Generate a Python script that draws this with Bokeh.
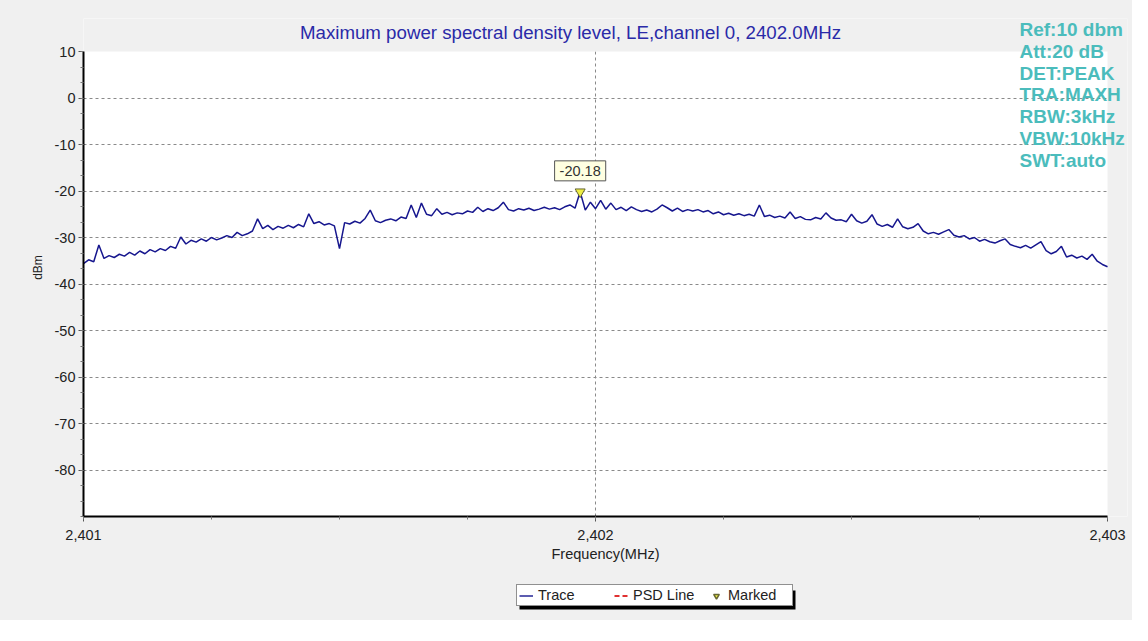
import numpy as np
from bokeh.plotting import figure
from bokeh.layouts import column
from bokeh.models import (Range1d, FixedTicker, NumeralTickFormatter, PrintfTickFormatter,
                          Label, Legend, LegendItem, ColumnDataSource, BoxAnnotation)
from bokeh.embed import file_html
from bokeh.resources import INLINE

# ---------------- data ----------------
TITLE = "Maximum power spectral density level, LE,channel 0, 2402.0MHz"
X_LABEL = "Frequency(MHz)"
Y_LABEL = "dBm"
SWEEP_START = 2401.0
SWEEP_STOP = 2403.0
x_ticks = [2401, 2402, 2403]
y_ticks = [10, 0, -10, -20, -30, -40, -50, -60, -70, -80]
y_min, y_max = -90, 10

trace_dbm = [
    -35.6, -34.8, -35.2, -31.6, -34.5, -33.9, -34.3, -33.6, -34.0, -33.2,
    -33.8, -32.9, -33.5, -32.6, -33.1, -32.4, -32.8, -31.9, -32.3, -29.9,
    -31.4, -30.6, -31.0, -30.3, -30.8, -30.0, -30.5, -30.1, -29.6, -30.0,
    -28.9, -29.6, -29.2, -28.6, -26.0, -28.1, -27.4, -28.3, -27.6, -28.0,
    -27.4, -27.9, -27.2, -27.7, -24.9, -27.0, -26.6, -27.3, -27.0, -27.5,
    -32.4, -26.8, -27.1, -26.5, -26.9, -25.9, -24.1, -26.4, -26.8, -26.3,
    -26.0, -26.4, -25.6, -25.9, -23.0, -25.7, -22.6, -25.0, -25.3, -23.8,
    -25.0, -24.6, -25.1, -24.7, -24.9, -24.3, -24.6, -23.5, -24.4, -23.8,
    -24.2, -23.6, -22.4, -24.0, -24.3, -23.8, -24.1, -23.7, -24.2, -23.9,
    -23.5, -23.9, -23.6, -24.0, -23.4, -23.0, -23.7, -20.18, -24.1, -22.4,
    -23.8, -22.0, -23.9, -22.6, -24.0, -23.5, -24.2, -23.4, -24.0, -24.4,
    -24.1, -24.5, -23.9, -23.0, -23.6, -24.3, -23.7, -24.4, -24.0, -24.3,
    -24.0, -24.5, -24.2, -24.9, -24.5, -25.1, -24.8, -25.2, -24.9, -25.3,
    -25.0, -25.4, -23.0, -25.5, -25.2, -25.7, -25.4, -25.8, -24.5, -25.9,
    -25.5, -26.1, -26.2, -25.7, -26.0, -24.7, -25.8, -26.3, -26.2, -26.6,
    -25.0, -26.4, -26.9, -26.5, -25.1, -27.1, -27.6, -27.2, -27.8, -26.0,
    -27.7, -28.1, -27.8, -27.0, -28.6, -29.2, -28.9, -29.3, -28.8, -28.3,
    -29.5, -29.9, -29.6, -30.3, -30.0, -30.8, -30.4, -30.9, -31.2, -30.7,
    -30.3, -31.5, -31.9, -32.2, -31.7, -32.3, -31.6, -30.9, -32.8, -33.5,
    -33.0, -31.9, -34.2, -33.8, -34.4, -34.0, -34.7, -33.6, -35.1, -35.8,
    -36.3,
]
trace_freq = np.linspace(SWEEP_START, SWEEP_STOP, len(trace_dbm))

marker_freq = [2401.97]
marker_dbm = [-20.18]
marker_text = "-20.18"

settings_text = ["Ref:10 dbm", "Att:20 dB", "DET:PEAK", "TRA:MAXH",
                 "RBW:3kHz", "VBW:10kHz", "SWT:auto"]
legend_labels = ["Trace", "PSD Line", "Marked"]

# ---------------- styling ----------------
FONT = "Liberation Sans"
BG = "#f0f0f0"
TEXT = "#222222"
TRACE_COLOR = "#16168e"
PSD_COLOR = "#e03030"
MARK_FILL = "#eeee44"
MARK_LINE = "#666633"

# the frame extends a little past the plotted area (right / top) so the
# instrument-settings text can straddle the edge like in the original
X_VIEW_END = 2403.039
Y_VIEW_END = 17.1

p = figure(width=1132, height=568, output_backend="svg", toolbar_location=None,
           x_range=Range1d(SWEEP_START, X_VIEW_END), y_range=Range1d(y_min, Y_VIEW_END),
           min_border_left=83, min_border_right=5, min_border_top=18,
           min_border_bottom=52, title=None)
p.border_fill_color = BG
p.background_fill_color = "white"
p.outline_line_color = None

# axes
p.xaxis.ticker = FixedTicker(ticks=x_ticks,
                             minor_ticks=list(np.arange(SWEEP_START, SWEEP_STOP + 0.001, 0.25)))
p.yaxis.ticker = FixedTicker(ticks=y_ticks,
                             minor_ticks=list(np.arange(y_min, y_max + 0.01, 10 / 3)))
p.xaxis.formatter = NumeralTickFormatter(format="0,0")
p.yaxis.formatter = PrintfTickFormatter(format="%d")
p.xaxis.bounds = (SWEEP_START, SWEEP_STOP)
p.yaxis.bounds = (y_min, y_max)
for ax in (p.xaxis, p.yaxis):
    ax.axis_line_color = "black"
    ax.axis_line_width = 2
    ax.major_tick_line_color = "#555555"
    ax.minor_tick_line_color = "#777777"
    ax.major_tick_out = 5
    ax.major_tick_in = 0
    ax.minor_tick_out = 3
    ax.minor_tick_in = 0
    ax.major_label_text_font = FONT
    ax.major_label_text_font_size = "14.5px"
    ax.major_label_text_color = TEXT
    ax.axis_label_text_font = FONT
    ax.axis_label_text_font_style = "normal"
    ax.axis_label_text_color = TEXT
p.xaxis.axis_label = X_LABEL
p.yaxis.axis_label = Y_LABEL
p.xaxis.axis_label_text_font_size = "14.5px"
p.yaxis.axis_label_text_font_size = "12px"
p.xaxis.major_label_standoff = 8
p.xaxis.axis_label_standoff = 3
p.yaxis.major_label_standoff = 3
p.yaxis.axis_label_standoff = 7

# grid
p.xgrid.ticker = FixedTicker(ticks=[x_ticks[1]])
p.ygrid.ticker = FixedTicker(ticks=y_ticks[1:])
for g in (p.xgrid, p.ygrid):
    g.grid_line_color = "#8a8a8a"
    g.grid_line_dash = "3 3"
    g.grid_line_width = 1

# grey surround outside the plotted area (right of 2403 MHz, above 10 dBm)
p.add_layout(BoxAnnotation(left=SWEEP_STOP, fill_color=BG, fill_alpha=1.0,
                           line_color=None, level="underlay"))
p.add_layout(BoxAnnotation(bottom=y_max, fill_color=BG, fill_alpha=1.0,
                           line_color=None, level="underlay"))

# renderers
trace_src = ColumnDataSource(dict(f=trace_freq, v=trace_dbm))
p.line("f", "v", source=trace_src, line_color=TRACE_COLOR, line_width=1.5)
mk_src = ColumnDataSource(dict(f=marker_freq, v=marker_dbm))
p.scatter("f", "v", source=mk_src, marker="inverted_triangle", size=10,
          fill_color=MARK_FILL, line_color=MARK_LINE, line_width=1)

p.add_layout(Label(x=marker_freq[0], y=marker_dbm[0], text=marker_text,
                   text_align="center", text_baseline="bottom", y_offset=11,
                   text_font=FONT, text_font_size="14.5px", text_color="#333333",
                   background_fill_color="#ffffe1", border_line_color="#555555",
                   border_line_width=1, padding=5))

# title
p.add_layout(Label(x=487, y=484, x_units="screen", y_units="screen", text=TITLE,
                   text_align="center", text_baseline="middle", text_font=FONT,
                   text_font_size="18.7px", text_color="#2a2aa8"))

# instrument settings text (top right)
for i, t in enumerate(settings_text):
    p.add_layout(Label(x=936, y=487 - 21.8 * i, x_units="screen", y_units="screen",
                       text=t, text_align="left", text_baseline="middle",
                       text_font=FONT, text_font_size="19px", text_font_style="bold",
                       text_color="#4bbcbc"))

# ---------------- legend strip ----------------
lg = figure(width=1132, height=52, output_backend="svg", toolbar_location=None,
            x_range=Range1d(0, 1), y_range=Range1d(0, 1),
            x_axis_location=None, y_axis_location=None,
            min_border_left=83, min_border_right=5, min_border_top=0, min_border_bottom=0)
lg.border_fill_color = BG
lg.background_fill_color = None
lg.outline_line_color = None
lg.xgrid.visible = False
lg.ygrid.visible = False

# legend-only renderers (nothing is drawn in the strip itself)
nothing = dict(x=[np.nan], y=[np.nan])
lr_trace = lg.line("x", "y", source=ColumnDataSource(nothing), line_color=TRACE_COLOR,
                   line_width=1.4)
lr_psd = lg.line("x", "y", source=ColumnDataSource(nothing), line_color=PSD_COLOR,
                 line_width=2, line_dash="5 3")
lr_mk = lg.scatter("x", "y", source=ColumnDataSource(nothing), marker="inverted_triangle",
                   size=9, fill_color=MARK_FILL, line_color=MARK_LINE, line_width=1.5)

LEG_X, LEG_Y, LEG_W, LEG_H, SHADOW = 433, 14, 276, 19, 3

# drop shadow behind the legend box
lg.add_layout(BoxAnnotation(left=LEG_X + SHADOW, right=LEG_X + SHADOW + LEG_W,
                            bottom=LEG_Y - SHADOW, top=LEG_Y - SHADOW + LEG_H,
                            left_units="screen", right_units="screen",
                            bottom_units="screen", top_units="screen",
                            fill_color="black", fill_alpha=1.0, line_color=None))

legend = Legend(items=[LegendItem(label=legend_labels[0], renderers=[lr_trace]),
                       LegendItem(label=legend_labels[1], renderers=[lr_psd]),
                       LegendItem(label=legend_labels[2], renderers=[lr_mk])],
                location=(LEG_X, LEG_Y), orientation="horizontal",
                glyph_width=14, glyph_height=15, label_height=15, label_width=62,
                label_standoff=5, spacing=14, padding=2, margin=0,
                label_text_font=FONT, label_text_font_size="14.5px",
                label_text_color=TEXT, background_fill_color="white",
                background_fill_alpha=1.0, border_line_color="#222222",
                border_line_width=1)
lg.add_layout(legend)

layout = column(p, lg, spacing=0, styles={"background-color": BG})
open("out.html", "w").write(file_html(layout, INLINE))
